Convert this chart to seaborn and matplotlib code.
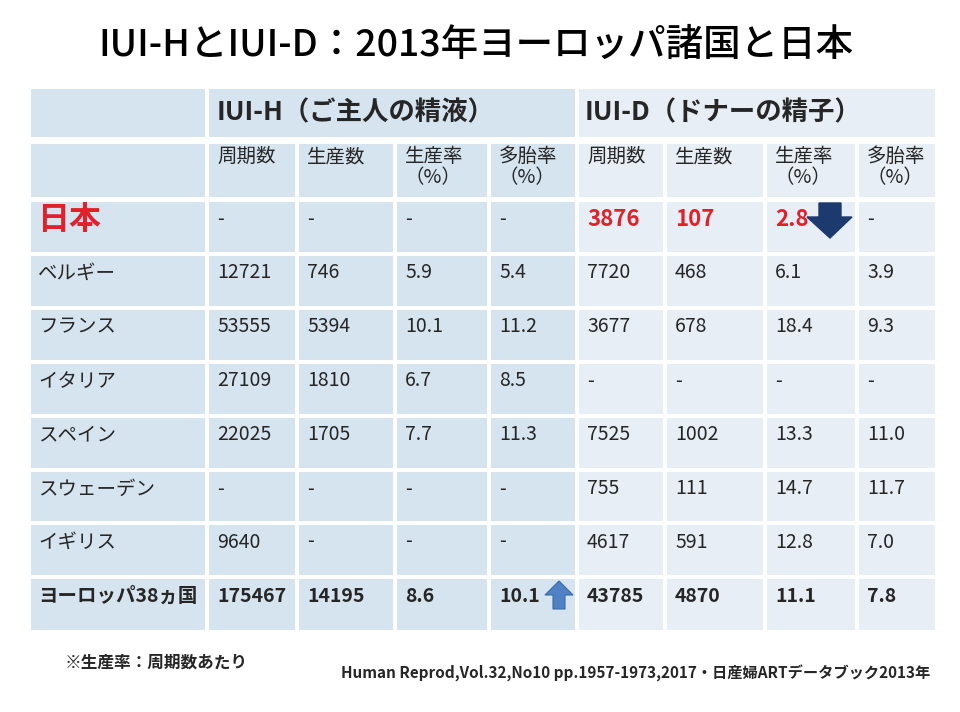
import numpy as np
import matplotlib
matplotlib.use("Agg")
import matplotlib.pyplot as plt
import seaborn as sns
from matplotlib.patches import Rectangle, Polygon

# -----------------------------
# DATA
# -----------------------------
countries = ["日本", "ベルギー", "フランス", "イタリア", "スペイン",
             "スウェーデン", "イギリス", "ヨーロッパ38ヵ国"]

nan = np.nan
iuih_cycles = [nan, 12721, 53555, 27109, 22025, nan, 9640, 175467]
iuih_births = [nan, 746, 5394, 1810, 1705, nan, nan, 14195]
iuih_rate = [nan, 5.9, 10.1, 6.7, 7.7, nan, nan, 8.6]
iuih_multi = [nan, 5.4, 11.2, 8.5, 11.3, nan, nan, 10.1]

iuid_cycles = [3876, 7720, 3677, nan, 7525, 755, 4617, 43785]
iuid_births = [107, 468, 678, nan, 1002, 111, 591, 4870]
iuid_rate = [2.8, 6.1, 18.4, nan, 13.3, 14.7, 12.8, 11.1]
iuid_multi = [nan, 3.9, 9.3, nan, 11.0, 11.7, 7.0, 7.8]

group_labels = ["IUI-H（ご主人の精液）", "IUI-D（ドナーの精子）"]
col_labels = ["周期数", "生産数", "生産率\n（%）", "多胎率\n（%）"]

title = "IUI-HとIUI-D：2013年ヨーロッパ諸国と日本"
note = "※生産率：周期数あたり"
source = "Human Reprod,Vol.32,No10 pp.1957-1973,2017・日産婦ARTデータブック2013年"

columns = [iuih_cycles, iuih_births, iuih_rate, iuih_multi,
           iuid_cycles, iuid_births, iuid_rate, iuid_multi]
is_rate = [False, False, True, True, False, False, True, True]

# -----------------------------
# STYLE
# -----------------------------
sns.set_theme(style="white")
plt.rcParams['font.family'] = ['Noto Sans CJK JP', 'DejaVu Sans']

left_blue = "#d6e4ef"
right_blue = "#e8eef5"
red = "#e3202a"

# layout (pixel grid)
col_edges = [29, 207, 297, 395, 489, 577, 665, 765, 857, 937]
head1 = (87, 139)
head2 = (142, 199)
row_edges = [200, 254, 308, 362, 416, 470, 523, 577, 632]
gap = 1.6


def fmt(v, rate):
    if np.isnan(v):
        return "-"
    return f"{v:.1f}" if rate else f"{int(v)}"


fig = plt.figure(figsize=(9.6, 7.12), dpi=100)
ax = fig.add_axes([0, 0, 1, 1])
ax.set_xlim(0, 960)
ax.set_ylim(712, 0)
ax.axis("off")


def cell(x0, x1, y0, y1, color):
    ax.add_patch(Rectangle((x0 + gap, y0 + gap), x1 - x0 - 2 * gap,
                           y1 - y0 - 2 * gap, facecolor=color,
                           edgecolor="none"))


# title
ax.text(476, 45, title, ha="center", va="center", fontsize=27,
        fontweight="medium", color="black")

# header row 1
cell(col_edges[0], col_edges[1], *head1, left_blue)
cell(col_edges[1], col_edges[5], *head1, left_blue)
cell(col_edges[5], col_edges[9], *head1, right_blue)
ax.text(col_edges[1] + 10, 113, group_labels[0], ha="left", va="center",
        fontsize=19, fontweight="bold")
ax.text(col_edges[5] + 8, 113, group_labels[1], ha="left", va="center",
        fontsize=19, fontweight="bold")

# header row 2
for c in range(9):
    color = left_blue if c < 5 else right_blue
    cell(col_edges[c], col_edges[c + 1], *head2, color)
    if c > 0:
        ax.text(col_edges[c] + 10, head2[0] + 4, col_labels[(c - 1) % 4],
                ha="left", va="top", fontsize=14, linespacing=1.0)

# data rows
for r, name in enumerate(countries):
    y0, y1 = row_edges[r], row_edges[r + 1]
    yc = y0 + 19
    for c in range(9):
        color = left_blue if c < 5 else right_blue
        cell(col_edges[c], col_edges[c + 1], y0, y1, color)

    bold = r == len(countries) - 1
    if r == 0:
        ax.text(col_edges[0] + 8, yc + 1, name, ha="left", va="center",
                fontsize=23, fontweight="bold", color=red)
    else:
        ax.text(col_edges[0] + 9, yc, name, ha="left", va="center",
                fontsize=14, fontweight="bold" if bold else "normal")

    for k, vals in enumerate(columns):
        txt = fmt(vals[r], is_rate[k])
        x = col_edges[k + 1] + 10
        if r == 0 and txt != "-":
            ax.text(x, yc, txt, ha="left", va="center", fontsize=16,
                    fontweight="bold", color=red)
        else:
            ax.text(x, yc, txt, ha="left", va="center", fontsize=14,
                    fontweight="bold" if bold else "normal")

# arrows: down (Japan IUI-D birth rate), up (Europe IUI-H multiple rate)
ax0 = col_edges[7] + 53
ay0 = row_edges[0] + 3
down = [(ax0 + 1, ay0), (ax0 + 23, ay0), (ax0 + 23, ay0 + 14),
        (ax0 + 34, ay0 + 14), (ax0 + 12, ay0 + 35), (ax0 - 11, ay0 + 14),
        (ax0 + 1, ay0 + 14)]
ax.add_patch(Polygon(down, closed=True, facecolor="#1c3a6e",
                     edgecolor="#1c3a6e"))

bx0 = col_edges[5] - 32
by0 = row_edges[7] + 4
up = [(bx0 + 14, by0), (bx0 + 28, by0 + 14), (bx0 + 20, by0 + 14),
      (bx0 + 20, by0 + 28), (bx0 + 8, by0 + 28), (bx0 + 8, by0 + 14),
      (bx0, by0 + 14)]
ax.add_patch(Polygon(up, closed=True, facecolor="#4f81c4",
                     edgecolor="#3a6aa8", linewidth=0.8))

# footer
ax.text(65, 663, note, ha="left", va="center", fontsize=12,
        fontweight="bold")
ax.text(930, 673, source, ha="right", va="center", fontsize=11,
        fontweight="bold")

fig.savefig("out.png", dpi=100, facecolor="white")
